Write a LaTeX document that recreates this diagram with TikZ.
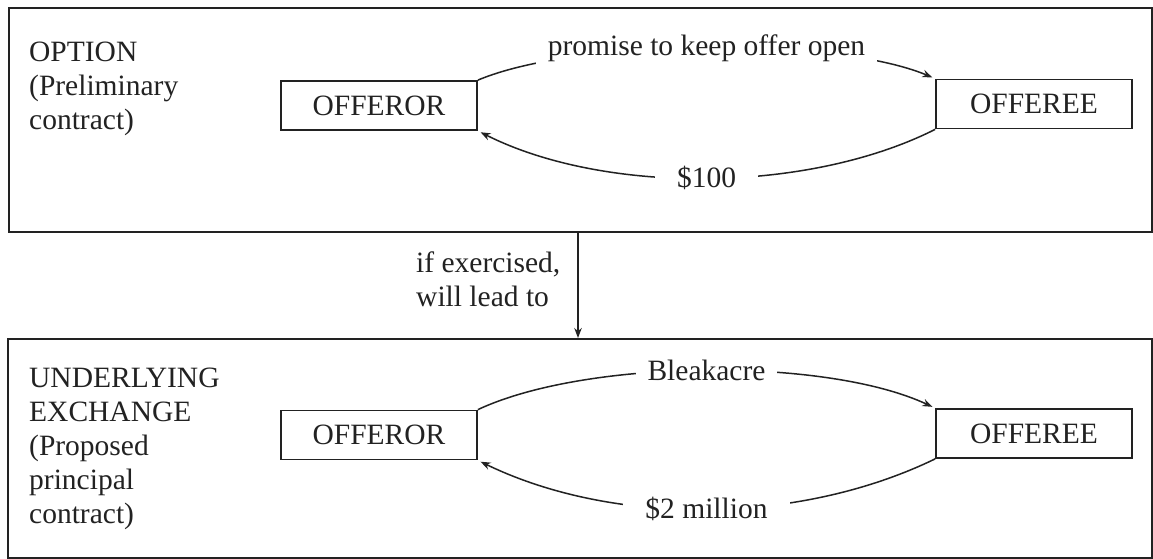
\documentclass[tikz,border=0pt]{standalone}
\usepackage{fontspec}
\setmainfont{Liberation Serif}
\usetikzlibrary{arrows.meta}
\definecolor{ink}{HTML}{222222}
\begin{document}
\begin{tikzpicture}[x=1pt,y=-1pt,
  every node/.style={font=\fontsize{29.5}{34}\selectfont, text=ink},
  frame/.style={draw=ink, line width=2.2pt, anchor=north west, inner sep=0pt},
  party/.style={draw=ink, line width=1.8pt, minimum width=196pt, minimum height=49pt, inner sep=0pt},
  flow/.style={draw=ink, line width=1.5pt, -{Stealth[length=10pt,width=7.5pt]}},
  gap/.style={fill=white, inner ysep=7pt, inner xsep=12pt},
  widegap/.style={gap, inner xsep=22pt},
  caption/.style={align=left, anchor=north west, inner sep=0pt}]
\useasboundingbox (0,0) rectangle (1153,559);
\fill[white] (0,0) rectangle (1153,559);

% the two contracts
\node[frame, minimum width=1143pt, minimum height=224pt] (optbox) at (8,7) {};
\node[frame, minimum width=1144pt, minimum height=219pt] (exbox) at (7,338) {};

\node[caption] (optlbl) at (29,42) {OPTION\\(Preliminary\\contract)};
\node[caption] (exlbl) at (29,368) {UNDERLYING\\EXCHANGE\\(Proposed\\principal\\contract)};

% parties
\node[party] (or1) at (379,105.5) {OFFEROR};
\node[party] (ee1) at (1034,104) {OFFEREE};
\node[party] (or2) at (379,435) {OFFEROR};
\node[party] (ee2) at (1034,433.5) {OFFEREE};

% option: promise against payment
\draw[flow, shorten >=3pt] (or1.north east) .. controls +(100,-42) and +(-100,-42) ..
  node[gap, pos=0.5] {promise to keep offer open} (ee1.north west);
\draw[flow, shorten >=3pt] (ee1.south west) .. controls +(-127,64) and +(127,64) ..
  node[widegap, pos=0.5] {\$100} (or1.south east);

% underlying exchange
\draw[flow, shorten >=3pt] (or2.north east) .. controls +(109,-51) and +(-109,-51) ..
  node[gap, pos=0.5] {Bleakacre} (ee2.north west);
\draw[flow, shorten >=3pt] (ee2.south west) .. controls +(-136,66) and +(136,66) ..
  node[widegap, pos=0.5] {\$2 million} (or2.south east);

% exercise of the option
\coordinate (drop) at (578,0);
\draw[flow] (optbox.south -| drop) -- (exbox.north -| drop);
\node[caption] (exlink) at (416,252) {if exercised,\\will lead to};
\end{tikzpicture}
\end{document}
